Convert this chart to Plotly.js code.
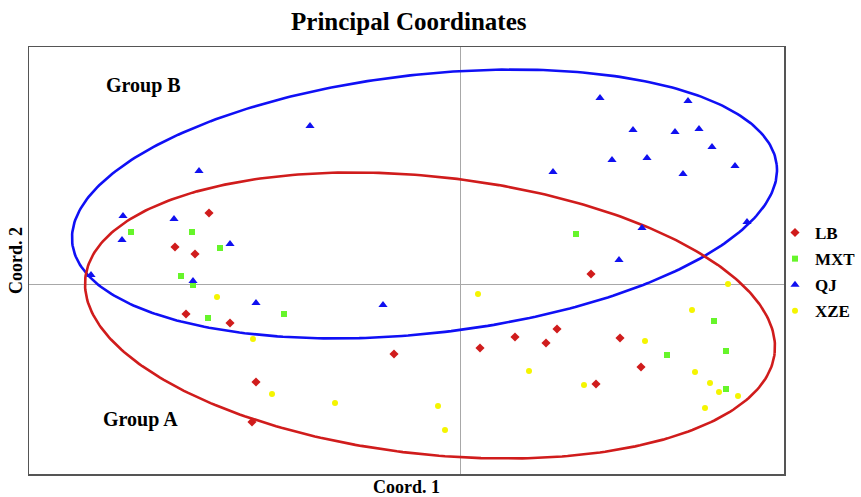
<!DOCTYPE html>
<html>
<head>
<meta charset="utf-8">
<script src="https://cdn.plot.ly/plotly-3.0.1.min.js"></script>
<style>
  html, body { margin: 0; padding: 0; background: #ffffff; }
  #chart { width: 861px; height: 497px; }
</style>
</head>
<body>
<div id="chart"></div>
<script>
// PCoA scores per population (Coord. 1, Coord. 2)
const lbX  = [-0.251, -0.285, -0.265, -0.274, -0.230, -0.204, -0.208, -0.066, 0.020, 0.055, 0.131, 0.097, 0.086, 0.160, 0.181, 0.136];
const lbY  = [ 0.071,  0.037,  0.030, -0.030, -0.039, -0.098, -0.138, -0.070, -0.064, -0.053, 0.010, -0.045, -0.059, -0.054, -0.083, -0.100];

const mxtX = [-0.329, -0.268, -0.240, -0.279, -0.267, -0.176, -0.252, 0.116, 0.254, 0.207, 0.266, 0.266];
const mxtY = [ 0.052,  0.052,  0.036,  0.008, -0.001, -0.030, -0.034, 0.050, -0.037, -0.071, -0.067, -0.105];

const qjX  = [-0.261, -0.337, -0.286, -0.338, -0.230, -0.267, -0.369, -0.204, -0.077, -0.150, 0.140, 0.228, 0.173, 0.215, 0.239, 0.252, 0.152, 0.187, 0.275, 0.093, 0.223, 0.287, 0.182, 0.159];
const qjY  = [ 0.113,  0.068,  0.065,  0.044,  0.040,  0.003,  0.009, -0.019, -0.021,  0.158, 0.186, 0.183, 0.154, 0.152, 0.155, 0.137, 0.124, 0.126, 0.118, 0.112, 0.110, 0.062, 0.056, 0.024];

const xzeX = [-0.243, -0.207, -0.188, -0.125, -0.022, -0.015, 0.018, 0.069, 0.268, 0.232, 0.185, 0.124, 0.235, 0.250, 0.259, 0.278, 0.245];
const xzeY = [-0.013, -0.055, -0.110, -0.119, -0.122, -0.146, -0.010, -0.087, 0.000, -0.026, -0.057, -0.101, -0.088, -0.099, -0.108, -0.112, -0.124];

// Group ellipses: [centre x, centre y, semi-major, semi-minor, rotation in degrees]
const groupB = [-0.0355, 0.080, 0.3544, 0.1294, 6.36];
const groupA = [-0.030, -0.0315, 0.3467, 0.1388, -6.22];

const groupLabels = ['Group B', 'Group A'];
const labelX = [-0.317, -0.3195];
const labelY = [0.199, -0.135];

function ellipsePath(p, n) {
  const [cx, cy, a, b, deg] = p;
  const t = deg * Math.PI / 180;
  const xs = [], ys = [];
  for (let i = 0; i <= n; i++) {
    const u = 2 * Math.PI * i / n;
    const ex = a * Math.cos(u), ey = b * Math.sin(u);
    xs.push(cx + ex * Math.cos(t) - ey * Math.sin(t));
    ys.push(cy + ex * Math.sin(t) + ey * Math.cos(t));
  }
  return { x: xs, y: ys };
}

const serif = 'Liberation Serif, Times New Roman, serif';
const eB = ellipsePath(groupB, 360);
const eA = ellipsePath(groupA, 360);

const traces = [
  { x: eB.x, y: eB.y, mode: 'lines', line: { color: '#1010f5', width: 2.6 }, showlegend: false, hoverinfo: 'skip' },
  { x: eA.x, y: eA.y, mode: 'lines', line: { color: '#d01c1c', width: 2.6 }, showlegend: false, hoverinfo: 'skip' },
  { x: lbX, y: lbY, name: 'LB', mode: 'markers', legendgroup: 'g1',
    marker: { symbol: 'diamond', size: 7, color: '#d01c1c' } },
  { x: mxtX, y: mxtY, name: 'MXT', mode: 'markers', legendgroup: 'g2',
    marker: { symbol: 'square', size: 6, color: '#66f52a' } },
  { x: qjX, y: qjY, name: 'QJ', mode: 'markers', legendgroup: 'g3',
    marker: { symbol: 'triangle-up', size: 8, color: '#1010f0' } },
  { x: xzeX, y: xzeY, name: 'XZE', mode: 'markers', legendgroup: 'g4',
    marker: { symbol: 'circle', size: 6, color: '#f5f500' } }
];

const axisCommon = {
  showgrid: false,
  zeroline: true,
  zerolinecolor: '#a8a8a8',
  zerolinewidth: 1,
  showline: true,
  mirror: true,
  linecolor: '#555555',
  linewidth: 1.5,
  showticklabels: false,
  ticks: '',
  automargin: false
};

const layout = {
  width: 861,
  height: 497,
  margin: { l: 29, r: 77, t: 47, b: 23, autoexpand: false },
  paper_bgcolor: '#ffffff',
  plot_bgcolor: '#ffffff',
  title: {
    text: 'Principal Coordinates',
    font: { family: serif, size: 25, color: '#000000', weight: 'bold' },
    x: 0.503, xref: 'paper', xanchor: 'center',
    y: 1 - 21 / 497, yref: 'container', yanchor: 'middle'
  },
  xaxis: Object.assign({}, axisCommon, {
    range: [-0.431, 0.324],
    title: { text: 'Coord. 1', standoff: 6, font: { family: serif, size: 18, color: '#000000', weight: 'bold' } }
  }),
  yaxis: Object.assign({}, axisCommon, {
    range: [-0.190, 0.237],
    title: { text: 'Coord. 2', standoff: 0, font: { family: serif, size: 18, color: '#000000', weight: 'bold' } }
  }),
  legend: {
    xref: 'container', yref: 'container',
    x: 775 / 861, xanchor: 'left', y: 1 - 272 / 497, yanchor: 'middle',
    font: { family: serif, size: 17, color: '#000000', weight: 'bold' },
    bgcolor: 'rgba(0,0,0,0)',
    tracegroupgap: 1,
    itemwidth: 30
  },
  annotations: groupLabels.map((t, i) => ({
    text: t, x: labelX[i], y: labelY[i], xref: 'x', yref: 'y', showarrow: false,
    font: { family: serif, size: 20, color: '#000000', weight: 'bold' }
  })),
  showlegend: true
};

Plotly.newPlot('chart', traces, layout, { displayModeBar: false, staticPlot: true });
</script>
</body>
</html>
